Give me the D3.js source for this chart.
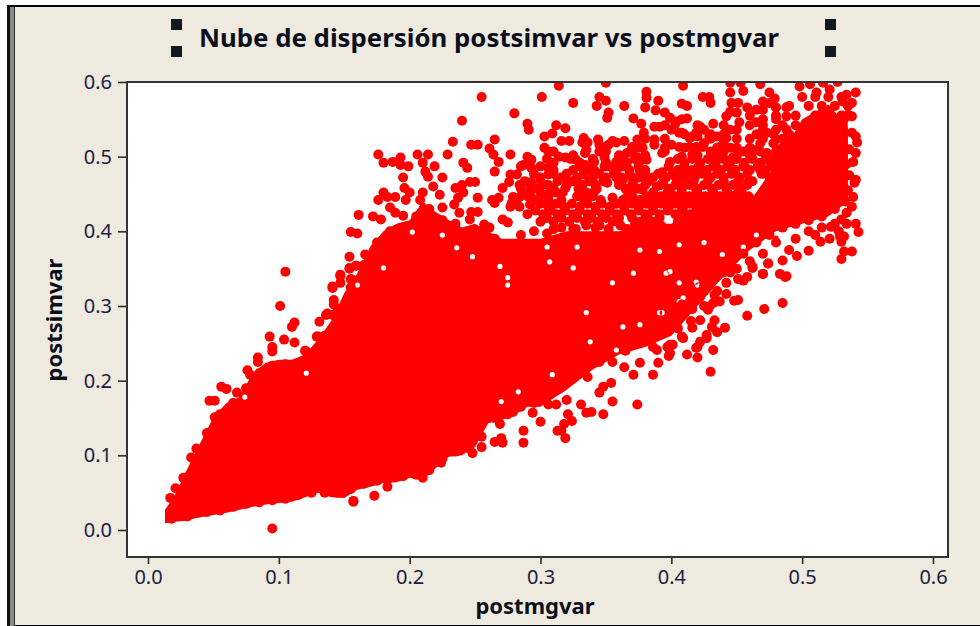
<!DOCTYPE html>
<html>
<head>
<meta charset="utf-8">
<script src="https://cdn.jsdelivr.net/npm/d3@7"></script>
<style>
  html, body { margin: 0; padding: 0; background: #fff; }
  svg { display: block; }
  text { font-family: "Noto Sans", sans-serif; }
</style>
</head>
<body>
<svg id="grafica"></svg>
<script>
const titulo = "Nube de dispersión postsimvar vs postmgvar";
const etiquetaX = "postmgvar";
const etiquetaY = "postsimvar";
const ticks = [0, 0.1, 0.2, 0.3, 0.4, 0.5, 0.6];

// la masa compacta de la nube: para cada postmgvar, el rango que sale todo rojo
const nucleoX = [.013,.02,.027,.04,.05,.06,.07,.08,.09,.10,.11,.12,.13,.14,.15,.16,.17,.18,.19,.20,.21,.22,.23,.24,.25,.26,.27,.28,.29,.30,.32,.34,.36,.38,.40,.42,.44,.46,.48,.50,.52,.535];
const nucleoMin = [.009,.011,.012,.017,.020,.023,.027,.031,.034,.036,.038,.044,.050,.044,.043,.054,.058,.063,.064,.070,.067,.083,.098,.100,.111,.143,.147,.154,.165,.165,.188,.215,.235,.245,.26,.30,.34,.375,.40,.41,.42,.44];
const nucleoMax = [.027,.045,.071,.117,.151,.170,.178,.210,.224,.228,.228,.235,.255,.280,.317,.344,.380,.400,.410,.415,.440,.426,.415,.405,.410,.400,.390,.39,.39,.39,.40,.40,.40,.41,.41,.43,.44,.44,.49,.55,.57,.54];

// huecos blancos que quedan dentro de la masa [postmgvar, postsimvar]
const huecos = [[.275,.328],[.275,.338],[.355,.331],[.391,.291],[.406,.306],[.363,.272],[.376,.275],[.338,.252],[.358,.241],[.283,.185],[.270,.172],[.309,.208],[.335,.291],[.307,.359],[.325,.351],[.371,.344],[.399,.346],[.419,.332],[.376,.375],[.305,.379],[.328,.379],[.396,.344],[.406,.331],[.425,.385],[.406,.382],[.391,.373],[.393,.291],[.420,.328],[.409,.311],[.455,.379],[.439,.369],[.480,.391],[.465,.395],[.202,.399],[.225,.395],[.236,.378],[.248,.366],[.269,.353],[.180,.351],[.160,.328],[.121,.21],[.074,.178]];

// puntos sueltos [postmgvar, postsimvar]
const bordeIzq = [[.105,.346],[.101,.300],[.112,.278],[.110,.272],[.093,.259],[.104,.255],[.112,.251],[.095,.245],[.095,.239],[.084,.231],[.084,.225],[.076,.214],[.078,.208],[.056,.192],[.060,.189],[.068,.184],[.047,.173],[.051,.173],[.051,.151],[.037,.109],[.033,.097],[.036,.079],[.027,.070],[.021,.056],[.017,.043],[.095,.002],[.157,.038],[.154,.366],[.159,.354],[.154,.350],[.147,.342],[.147,.331],[.156,.335],[.141,.324],[.142,.308],[.142,.302],[.136,.288],[.131,.279],[.130,.259],[.121,.239],[.126,.235]];

const cima = [[.176,.503],[.193,.499],[.206,.503],[.214,.503],[.229,.503],[.180,.492],[.187,.493],[.193,.489],[.199,.487],[.210,.492],[.212,.480],[.219,.487],[.214,.473],[.218,.460],[.195,.472],[.225,.472],[.196,.458],[.200,.452],[.197,.442],[.180,.452],[.176,.442],[.183,.446],[.189,.446],[.210,.452],[.208,.442],[.223,.449],[.185,.432],[.189,.425],[.161,.422],[.172,.420],[.178,.416],[.195,.421],[.225,.432],[.155,.399],[.160,.397],[.166,.369],[.154,.351],[.159,.354],[.147,.340],[.155,.336],[.141,.326],[.137,.290],[.141,.288],[.129,.259],[.120,.240],[.125,.232],[.233,.520],[.247,.516],[.252,.516],[.265,.523],[.261,.511],[.264,.503],[.268,.493],[.277,.503],[.241,.492],[.244,.485],[.265,.480],[.277,.476],[.276,.466],[.271,.458],[.235,.458],[.240,.462],[.246,.466],[.250,.466],[.241,.452],[.237,.445],[.234,.436],[.252,.445],[.263,.442],[.268,.445],[.265,.438],[.279,.446],[.277,.433],[.282,.436],[.238,.425],[.247,.426],[.252,.426],[.246,.416],[.271,.416],[.257,.409],[.261,.405],[.275,.412]];

const medio = [[.255,.580],[.240,.548],[.280,.558],[.290,.544],[.291,.536],[.301,.580],[.314,.595],[.325,.572],[.350,.599],[.345,.580],[.350,.575],[.343,.568],[.364,.568],[.352,.559],[.351,.552],[.312,.542],[.319,.538],[.309,.531],[.303,.527],[.316,.521],[.322,.521],[.333,.525],[.332,.519],[.336,.519],[.344,.523],[.345,.516],[.355,.521],[.352,.516],[.358,.519],[.364,.521],[.335,.509],[.334,.505],[.345,.507],[.303,.512],[.306,.507],[.314,.500],[.319,.499],[.327,.496],[.349,.499],[.341,.493],[.334,.489],[.363,.497],[.358,.493],[.306,.485],[.308,.480],[.306,.476],[.290,.500],[.293,.496],[.287,.489],[.293,.485],[.282,.476],[.284,.462],[.293,.466],[.301,.462],[.306,.462],[.321,.466],[.319,.458],[.333,.476],[.341,.482],[.349,.487],[.358,.482],[.330,.462],[.340,.466],[.351,.465],[.363,.469],[.341,.453],[.292,.453],[.302,.449],[.293,.445],[.307,.452],[.317,.452],[.316,.442],[.332,.445],[.355,.445],[.363,.442],[.284,.446],[.278,.438],[.292,.436]];

const derechaAlta = [[.381,.587],[.381,.579],[.380,.566],[.390,.575],[.388,.562],[.395,.559],[.399,.552],[.408,.571],[.412,.568],[.371,.551],[.377,.544],[.387,.540],[.391,.540],[.403,.544],[.408,.550],[.412,.551],[.379,.532],[.374,.523],[.370,.513],[.366,.505],[.387,.523],[.387,.516],[.393,.505],[.400,.516],[.408,.532],[.414,.525],[.419,.532],[.378,.512],[.381,.496],[.374,.499],[.366,.492],[.399,.493],[.406,.513],[.408,.500],[.416,.503],[.419,.513],[.376,.480],[.393,.479],[.403,.473],[.409,.483],[.419,.483],[.381,.466],[.370,.472],[.358,.472],[.378,.456],[.366,.446],[.389,.460],[.399,.456],[.412,.465],[.419,.456],[.409,.595],[.445,.599],[.453,.599],[.468,.597],[.445,.586],[.455,.588],[.475,.586],[.479,.578],[.470,.574],[.446,.572],[.451,.572],[.424,.580],[.429,.580],[.430,.572],[.442,.554],[.445,.560],[.458,.566],[.465,.563],[.475,.572],[.470,.563],[.480,.566],[.488,.566],[.432,.544],[.422,.540],[.420,.527],[.406,.532],[.404,.547],[.435,.527],[.442,.525],[.445,.536],[.452,.546],[.450,.559],[.465,.546],[.470,.550],[.480,.550],[.488,.554],[.473,.532],[.480,.523],[.488,.536],[.490,.523],[.445,.512],[.437,.513],[.429,.527],[.424,.513],[.416,.527],[.414,.513],[.447,.499],[.465,.509],[.473,.505],[.480,.500],[.490,.507],[.432,.496]];

const derechaBorde = [[.498,.594],[.506,.597],[.516,.599],[.527,.600],[.511,.586],[.521,.590],[.534,.583],[.541,.586],[.538,.572],[.531,.574],[.535,.556],[.538,.554],[.531,.543],[.538,.532],[.541,.527],[.542,.519],[.541,.505],[.539,.493],[.541,.469],[.540,.465],[.539,.446],[.538,.433],[.534,.425],[.530,.416],[.541,.410],[.543,.399],[.532,.393],[.529,.393],[.530,.386],[.532,.373],[.538,.373],[.530,.363],[.522,.406],[.521,.390],[.514,.386],[.510,.395],[.505,.374],[.496,.367],[.490,.375],[.485,.361],[.474,.357],[.470,.343],[.483,.343],[.488,.340],[.458,.339],[.462,.353],[.532,.55],[.536,.51],[.534,.49],[.536,.475],[.535,.455],[.533,.44],[.534,.41],[.528,.40],[.445,.345],[.46,.36],[.47,.37],[.48,.385],[.495,.39],[.505,.40],[.515,.405],[.525,.41]];

const bordeInf = [[.485,.304],[.471,.296],[.458,.287],[.451,.308],[.448,.307],[.442,.316],[.441,.271],[.432,.241],[.430,.212],[.420,.231],[.412,.235],[.419,.244],[.422,.252],[.427,.257],[.435,.265],[.431,.272],[.433,.281],[.390,.224],[.386,.208],[.398,.233],[.397,.245],[.401,.248],[.389,.241],[.409,.257],[.416,.271],[.422,.281],[.428,.295],[.432,.304],[.437,.306],[.425,.327],[.433,.315],[.451,.336],[.455,.334],[.470,.343],[.487,.339],[.474,.357],[.462,.351],[.442,.331],[.416,.296],[.408,.302],[.429,.299],[.422,.312],[.374,.168],[.371,.208],[.331,.168],[.335,.157],[.339,.158],[.348,.155],[.355,.172],[.306,.168],[.321,.155],[.324,.146],[.318,.142],[.316,.133],[.319,.123],[.300,.145],[.287,.133],[.287,.117],[.269,.142],[.265,.118],[.271,.117],[.270,.123],[.248,.103],[.255,.111],[.224,.090],[.336,.205],[.345,.184],[.354,.197],[.348,.192],[.320,.174],[.312,.168],[.294,.157],[.279,.158],[.376,.224],[.364,.218],[.386,.245],[.399,.237],[.399,.248],[.408,.259],[.420,.245],[.427,.261],[.157,.039],[.173,.046],[.183,.058],[.210,.070],[.313,.133],[.425,.30],[.435,.32],[.44,.345],[.43,.335],[.45,.35],[.415,.28],[.405,.27]];

// puntos pegados al contorno de la masa compacta
const contornoInf = [[.018,.015],[.03,.018],[.045,.024],[.055,.026],[.065,.031],[.075,.035],[.085,.037],[.095,.04],[.105,.042],[.115,.047],[.125,.05],[.135,.05],[.145,.05],[.155,.055],[.165,.062],[.175,.066],[.185,.07],[.195,.072],[.205,.074],[.215,.08],[.225,.095],[.235,.105],[.245,.11],[.255,.125],[.265,.15],[.275,.155],[.285,.165],[.295,.17],[.305,.18],[.315,.19],[.325,.205],[.335,.225],[.345,.225],[.355,.225],[.365,.24],[.375,.25],[.385,.255],[.395,.265],[.405,.28],[.415,.30],[.425,.32],[.435,.34],[.445,.355],[.455,.37],[.465,.385],[.475,.395],[.485,.405],[.495,.41],[.505,.415],[.515,.42],[.525,.43]];
const contornoSup = [[.03,.07],[.035,.095],[.045,.13],[.055,.155],[.065,.17],[.075,.19],[.085,.21],[.095,.22],[.105,.222],[.115,.222],[.125,.235],[.135,.26],[.145,.295],[.155,.325],[.165,.355],[.175,.385],[.185,.4],[.195,.405],[.205,.42],[.215,.43],[.225,.415],[.235,.41],[.245,.40],[.255,.40],[.265,.39],[.275,.38],[.285,.375],[.295,.38],[.285,.395],[.295,.40],[.305,.397],[.316,.405],[.327,.403],[.342,.405],[.45,.45],[.458,.465],[.468,.482],[.474,.495],[.483,.51]];

// zona alta de la derecha, leída por filas de postsimvar
const filasY = [.408,.418,.428,.437,.447,.457,.467,.477,.487,.497,.507,.518,.53,.542,.555,.568,.58,
  .403,.413,.423,.433,.442,.452,.462,.472,.482,.492,.502,.512,.524,.536];
const filasX = [
  [.335,.345,.361,.372,.381,.392,.405,.415,.428,.438],
  [.305,.316,.328,.339,.35,.36,.37,.382,.391,.41,.42,.432,.444,.455,.466],
  [.296,.308,.319,.33,.342,.353,.364,.375,.386,.397,.408,.419,.43,.44,.45,.46,.478],
  [.30,.312,.324,.336,.347,.358,.37,.381,.392,.403,.414,.425,.436,.447,.458,.469,.48],
  [.29,.306,.328,.34,.37,.381,.392,.403,.414,.426,.437,.448,.459,.47,.484],
  [.285,.298,.31,.329,.343,.365,.375,.398,.408,.42,.431,.442,.453,.476,.488],
  [.288,.30,.313,.325,.337,.348,.36,.371,.383,.394,.405,.417,.428,.44,.451,.462,.483,.494],
  [.295,.31,.32,.333,.345,.356,.368,.38,.39,.401,.412,.424,.435,.446,.458,.469,.48,.49,.50],
  [.285,.30,.33,.352,.363,.375,.398,.41,.421,.432,.443,.455,.466,.477,.488,.499],
  [.305,.323,.34,.36,.372,.405,.416,.428,.44,.45,.462,.474,.485,.496],
  [.31,.35,.37,.395,.43,.44,.455,.468,.48,.49,.503],
  [.425,.44,.468,.478,.488,.498,.508],
  [.41,.43,.44,.465,.478,.49,.50,.51],
  [.395,.42,.44,.46,.47,.485,.495,.505,.515],
  [.46,.48,.495,.51,.52,.53],
  [.49,.505,.515,.525,.535],
  [.50,.51,.52,.53],
  [.31,.325,.352,.366,.378,.388,.41,.42,.433],
  [.30,.31,.322,.334,.344,.355,.376,.387,.405,.416,.427,.438,.45,.46,.47],
  [.29,.302,.313,.325,.336,.347,.358,.369,.38,.391,.403,.414,.425,.436,.445,.455,.48,.49],
  [.284,.306,.318,.33,.342,.353,.364,.375,.386,.398,.409,.42,.431,.442,.453,.464,.475,.486],
  [.296,.306,.334,.346,.376,.387,.398,.409,.42,.431,.442,.453,.464,.476,.49],
  [.287,.30,.312,.335,.37,.386,.397,.408,.42,.432,.443,.454,.47,.481],
  [.292,.305,.32,.332,.342,.36,.37,.38,.392,.403,.414,.425,.436,.447,.458,.48,.49],
  [.30,.316,.328,.34,.35,.362,.375,.386,.396,.407,.418,.43,.44,.452,.475,.487,.497],
  [.31,.325,.338,.368,.38,.405,.416,.427,.438,.449,.46,.472,.483,.494],
  [.31,.33,.35,.375,.41,.422,.434,.445,.456,.468,.48,.49,.502],
  [.325,.36,.38,.42,.435,.45,.46,.472,.485,.497,.51],
  [.35,.375,.395,.41,.435,.45,.46,.485,.495,.505,.515],
  [.38,.395,.43,.45,.46,.47,.485,.495,.505,.515],
  [.40,.425,.45,.47,.48,.50,.51,.52]
];

const puntos = [...bordeIzq, ...cima, ...medio, ...derechaAlta, ...derechaBorde, ...bordeInf, ...contornoInf, ...contornoSup,
  ...filasY.flatMap((y,i)=>filasX[i].map(x=>[x,y]))];

const svg_w = 980, svg_h = 626;
const plot = {l:127, r:948, t:82, b:557};

let svg = d3.select("#grafica").attr("width", svg_w).attr("height", svg_h);

// fondo y marco de la ventana
svg.append("rect").attr("x",7).attr("y",5).attr("width",svg_w-7).attr("height",svg_h-5).attr("fill","#eeeadf");
svg.append("rect").attr("x",7).attr("y",5).attr("width",svg_w-7).attr("height",2).attr("fill","#000");
svg.append("rect").attr("x",7).attr("y",625).attr("width",svg_w-7).attr("height",1).attr("fill","#000");
svg.append("rect").attr("x",7).attr("y",5).attr("width",3).attr("height",svg_h-5).attr("fill","#111");
svg.append("rect").attr("x",10).attr("y",7).attr("width",4).attr("height",svg_h-7).attr("fill","#8a8a86");
svg.append("rect").attr("x",14).attr("y",7).attr("width",1).attr("height",svg_h-7).attr("fill","#333");

// titulo con los tiradores de selección
svg.append("text").attr("x",489).attr("y",47).attr("text-anchor","middle")
  .attr("font-size",25.8).attr("font-weight",700).attr("fill","#0b0f1c").text(titulo);
[[171,19],[171,46],[825,19],[825,46]].forEach(h => {
  svg.append("rect").attr("x",h[0]).attr("y",h[1]).attr("width",11).attr("height",11).attr("fill","#111823");
});

// escalas
let x_scale = d3.scaleLinear().domain([0,0.6]).range([148,933]);
let y_scale = d3.scaleLinear().domain([0,0.6]).range([530,82]);

svg.append("rect").attr("x",plot.l).attr("y",plot.t).attr("width",plot.r-plot.l).attr("height",plot.b-plot.t).attr("fill","#fff");

svg.append("clipPath").attr("id","recorte").append("rect")
  .attr("x",plot.l).attr("y",plot.t).attr("width",plot.r-plot.l).attr("height",plot.b-plot.t);
let nube = svg.append("g").attr("clip-path","url(#recorte)");

let area = d3.area()
  .x((d,i)=>x_scale(nucleoX[i]))
  .y0((d,i)=>y_scale(nucleoMin[i]))
  .y1((d,i)=>y_scale(nucleoMax[i]));

// los huecos van como subtrazados del mismo path (evenodd)
let trazo_huecos = d3.path();
huecos.forEach(d => {
  let hx = x_scale(d[0]), hy = y_scale(d[1]);
  trazo_huecos.moveTo(hx+2.6, hy);
  trazo_huecos.arc(hx, hy, 2.6, 0, 2*Math.PI);
  trazo_huecos.closePath();
});
nube.append("path").attr("d",area(nucleoX)+trazo_huecos.toString())
  .attr("fill","#ff0000").attr("fill-rule","evenodd");

nube.selectAll("circle").data(puntos).enter().append("circle")
  .attr("cx",d=>x_scale(d[0]))
  .attr("cy",d=>y_scale(d[1]))
  .attr("r",5)
  .attr("fill","#ff0000");

// ejes
let axis_x = d3.axisBottom(x_scale).tickValues(ticks).tickFormat(d3.format(".1f")).tickSize(7).tickPadding(6);
let axis_y = d3.axisLeft(y_scale).tickValues(ticks).tickFormat(d3.format(".1f")).tickSize(9).tickPadding(6);
let gx = svg.append("g").attr("transform",`translate(0,${plot.b})`).call(axis_x);
let gy = svg.append("g").attr("transform",`translate(${plot.l},0)`).call(axis_y);
[gx,gy].forEach(g => {
  g.select(".domain").remove();
  g.selectAll("line").attr("stroke","#2b2b2b").attr("stroke-width",1.6);
  g.selectAll("text").attr("font-size",20).attr("fill","#1c1c40").attr("font-family",'"Noto Sans", sans-serif');
});

svg.append("rect").attr("x",plot.l).attr("y",plot.t).attr("width",plot.r-plot.l).attr("height",plot.b-plot.t)
  .attr("fill","none").attr("stroke","#333").attr("stroke-width",2);

svg.append("text").attr("x",535).attr("y",614).attr("text-anchor","middle")
  .attr("font-size",22).attr("font-weight",700).attr("fill","#0b0f1c").text(etiquetaX);
svg.append("text").attr("transform","translate(62,320) rotate(-90)").attr("text-anchor","middle")
  .attr("font-size",22).attr("font-weight",700).attr("fill","#0b0f1c").text(etiquetaY);
</script>
</body>
</html>
